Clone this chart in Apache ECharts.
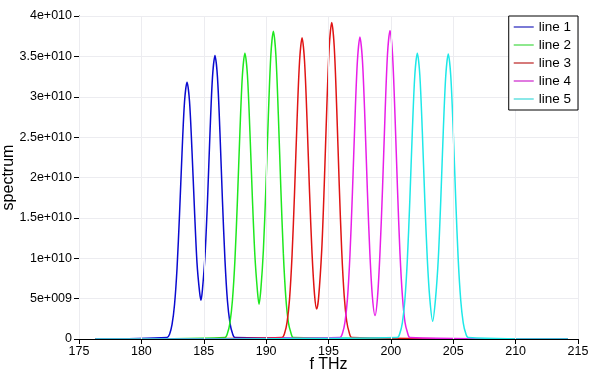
<!DOCTYPE html>
<html>
<head>
<meta charset="utf-8">
<script src="https://cdn.jsdelivr.net/npm/echarts@6/dist/echarts.min.js"></script>
<style>
html,body{margin:0;padding:0;background:#fff;}
#chart{width:595px;height:373px;}
</style>
</head>
<body>
<div id="chart"></div>
<script>
// Frequencies (THz) and spectrum values (x1e10)
const seriesNames = ['line 1', 'line 2', 'line 3', 'line 4', 'line 5'];
const rangeStart = 176.3;
const rangeEnd = 214.2;

const line1F = [182.06,182.26,182.46,182.66,182.86,183.06,183.26,183.46,183.66,183.86,184.06,184.26,184.46,184.66,184.78,184.9,185.1,185.3,185.5,185.7,185.9,186.1,186.3,186.5,186.7,186.9,187.1,187.3,187.5];
const line1S = [0.02,0.06,0.18,0.43,0.88,1.55,2.31,2.94,3.18,2.94,2.32,1.59,0.94,0.59,0.48,0.62,1.03,1.71,2.55,3.24,3.51,3.24,2.55,1.71,0.98,0.47,0.20,0.07,0.02];

const line2F = [186.7,186.9,187.1,187.3,187.5,187.7,187.9,188.1,188.3,188.5,188.7,188.9,189.1,189.3,189.43,189.58,189.78,189.98,190.18,190.38,190.58,190.78,190.98,191.18,191.38,191.58,191.78,191.98,192.18];
const line2S = [0.02,0.07,0.20,0.48,0.98,1.72,2.57,3.27,3.54,3.27,2.57,1.74,1.03,0.60,0.43,0.62,1.10,1.87,2.77,3.52,3.81,3.52,2.77,1.86,1.06,0.51,0.21,0.08,0.02];

const line3F = [191.28,191.48,191.68,191.88,192.08,192.28,192.48,192.68,192.88,193.08,193.28,193.48,193.68,193.88,194.05,194.2,194.46,194.66,194.86,195.06,195.26,195.46,195.66,195.86,196.06,196.26,196.46,196.66,196.86];
const line3S = [0.02,0.07,0.21,0.50,1.04,1.82,2.71,3.44,3.73,3.44,2.71,1.82,1.06,0.55,0.37,0.50,1.11,1.91,2.85,3.62,3.92,3.62,2.85,1.91,1.09,0.53,0.22,0.08,0.02];

const line4F = [195.92,196.12,196.32,196.52,196.72,196.92,197.12,197.32,197.52,197.72,197.92,198.12,198.32,198.52,198.73,198.93,199.13,199.33,199.53,199.73,199.93,200.13,200.33,200.53,200.73,200.93,201.13,201.33,201.53];
const line4S = [0.02,0.07,0.21,0.50,1.04,1.82,2.72,3.45,3.74,3.45,2.72,1.82,1.05,0.52,0.29,0.52,1.08,1.86,2.77,3.53,3.82,3.53,2.77,1.86,1.06,0.52,0.21,0.08,0.02];

const line5F = [200.52,200.72,200.92,201.12,201.32,201.52,201.72,201.92,202.12,202.32,202.52,202.72,202.92,203.12,203.35,203.58,203.8,204.0,204.2,204.4,204.6,204.8,205.0,205.2,205.4,205.6,205.8,206.0,206.2];
const line5S = [0.02,0.07,0.20,0.48,0.98,1.72,2.57,3.27,3.54,3.27,2.57,1.72,0.99,0.50,0.22,0.50,0.99,1.72,2.57,3.26,3.53,3.26,2.57,1.72,0.98,0.48,0.20,0.07,0.02];

const xTicks = [175,180,185,190,195,200,205,210,215];
const yTicks = [0,5e9,1e10,1.5e10,2e10,2.5e10,3e10,3.5e10,4e10];
const scale = 1e10;

const lineColors = ['#0a0ad0', '#1ee81e', '#e01414', '#e81ee8', '#1ee8e8'];
const legendColors = ['#7a7ad6', '#8ee88e', '#d67a7a', '#e07ae0', '#8ae8e8'];

function buildData(f, s) {
  const d = [[rangeStart, 0]];
  for (let i = 0; i < f.length; i++) d.push([f[i], s[i] * scale]);
  d.push([rangeEnd, 0]);
  return d;
}
const allF = [line1F, line2F, line3F, line4F, line5F];
const allS = [line1S, line2S, line3S, line4S, line5S];

function sciFmt(v) {
  if (v === 0) return '0';
  const e = Math.floor(Math.log10(v) + 1e-9);
  const m = +(v / Math.pow(10, e)).toFixed(2);
  return m + 'e+' + String(e).padStart(3, '0');
}

const chart = echarts.init(document.getElementById('chart'), null, {renderer: 'canvas'});
const FONT = 'Liberation Sans';
chart.setOption({
  animation: false,
  backgroundColor: '#ffffff',
  textStyle: {fontFamily: FONT},
  grid: {left: 79, right: 17, top: 16, bottom: 34, containLabel: false, outerBoundsMode: 'none'},
  legend: {
    orient: 'vertical',
    right: 17,
    top: 16,
    padding: [3, 7, 3, 5],
    itemGap: 2,
    itemWidth: 20,
    itemHeight: 2,
    icon: 'rect',
    borderColor: '#000',
    borderWidth: 1,
    borderRadius: 0,
    backgroundColor: '#fff',
    textStyle: {fontFamily: FONT, fontSize: 13.5, color: '#000', lineHeight: 16},
    data: seriesNames.map((n, i) => ({name: n, itemStyle: {color: legendColors[i]}}))
  },
  xAxis: {
    type: 'value',
    min: xTicks[0],
    max: xTicks[xTicks.length - 1],
    interval: 5,
    name: 'f THz',
    nameLocation: 'middle',
    nameGap: 18,
    nameMoveOverlap: false,
    nameTextStyle: {fontFamily: FONT, fontSize: 16, color: '#000'},
    axisLine: {show: true, onZero: false, lineStyle: {color: '#000', width: 1}},
    axisTick: {show: true, length: 5, lineStyle: {color: '#000'}},
    axisLabel: {fontFamily: FONT, fontSize: 12.5, color: '#000', margin: 6, showMinLabel: true, showMaxLabel: true},
    splitLine: {show: true, lineStyle: {color: '#ececf0', width: 1}},
    z: 3
  },
  yAxis: {
    type: 'value',
    min: yTicks[0],
    max: yTicks[yTicks.length - 1],
    interval: 5e9,
    name: 'spectrum',
    nameLocation: 'middle',
    nameGap: 62,
    nameMoveOverlap: false,
    nameTextStyle: {fontFamily: FONT, fontSize: 16, color: '#000'},
    axisLine: {show: true, lineStyle: {color: '#000', width: 1}},
    axisTick: {show: true, length: 5, lineStyle: {color: '#000'}},
    axisLabel: {fontFamily: FONT, fontSize: 12.5, color: '#000', margin: 7, formatter: sciFmt},
    splitLine: {show: true, lineStyle: {color: '#ececf0', width: 1}}
  },
  series: seriesNames.map((n, i) => ({
    name: n,
    type: 'line',
    data: buildData(allF[i], allS[i]),
    showSymbol: false,
    symbol: 'none',
    smooth: 0.3,
    lineStyle: {color: lineColors[i], width: 1.5},
    itemStyle: {color: lineColors[i]},
    z: 2
  }))
});
</script>
</body>
</html>
